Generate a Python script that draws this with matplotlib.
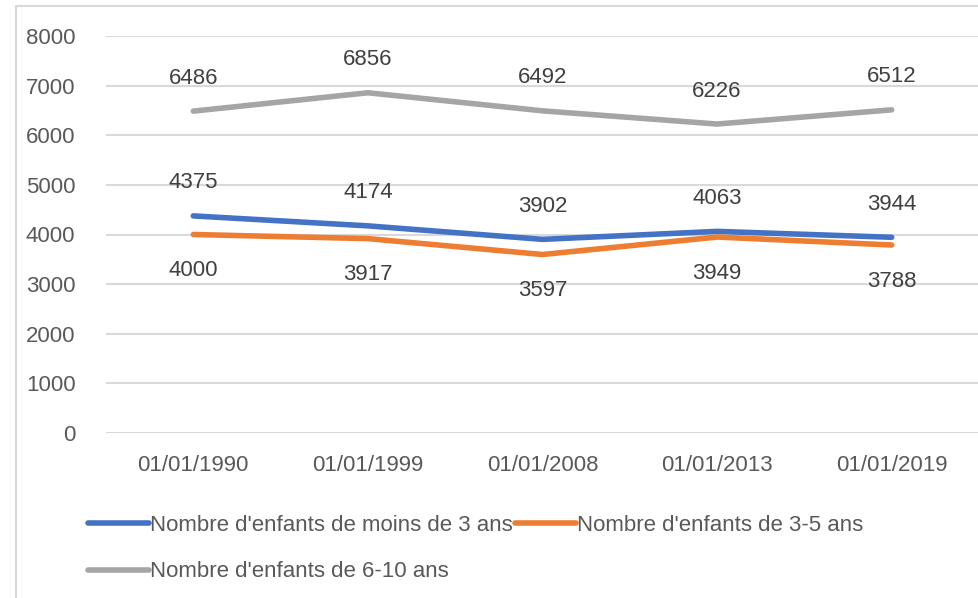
import matplotlib
matplotlib.use("Agg")
import matplotlib.pyplot as plt
from matplotlib.patches import Rectangle

categories = ["01/01/1990", "01/01/1999", "01/01/2008", "01/01/2013", "01/01/2019"]
moins3 = [4375, 4174, 3902, 4063, 3944]
ans3_5 = [4000, 3917, 3597, 3949, 3788]
ans6_10 = [6486, 6856, 6492, 6226, 6512]
names = ["Nombre d'enfants de moins de 3 ans", "Nombre d'enfants de 3-5 ans",
         "Nombre d'enfants de 6-10 ans"]
yticks = [0, 1000, 2000, 3000, 4000, 5000, 6000, 7000, 8000]

plt.rcParams['font.family'] = ['Liberation Sans', 'DejaVu Sans']
FS = 16

fig = plt.figure(figsize=(9.79, 5.98), dpi=100)
ax = fig.add_axes([106/979, 1-433/598, 1-106/979, (433-36)/598])

x = list(range(len(categories)))
colors = ["#4472C4", "#ED7D31", "#A5A5A5"]
lines = []
for vals, c, n in zip([moins3, ans3_5, ans6_10], colors, names):
    l, = ax.plot(x, vals, color=c, lw=4.0, solid_capstyle='round', label=n, zorder=3)
    lines.append(l)

for xi, v in zip(x, ans6_10):
    ax.annotate(str(v), (xi, v), xytext=(0, 33), textcoords='offset pixels',
                ha='center', va='center', fontsize=FS, color='#404040')
for xi, v in zip(x, moins3):
    ax.annotate(str(v), (xi, v), xytext=(0, 33), textcoords='offset pixels',
                ha='center', va='center', fontsize=FS, color='#404040')
for xi, v in zip(x, ans3_5):
    ax.annotate(str(v), (xi, v), xytext=(0, -36), textcoords='offset pixels',
                ha='center', va='center', fontsize=FS, color='#404040')

ax.set_xlim(-0.5, len(categories) - 0.5)
ax.set_ylim(0, 8000)
ax.set_yticks(yticks)
ax.set_yticklabels([str(t) for t in yticks])
ax.set_xticks(x)
ax.set_xticklabels(categories)
ax.tick_params(axis='both', length=0, labelsize=FS, colors='#595959')
ax.tick_params(axis='y', pad=22)
ax.tick_params(axis='x', pad=16)
ax.grid(axis='y', color='#d9d9d9', lw=1.5, zorder=0)
ax.set_axisbelow(True)
for s in ax.spines.values():
    s.set_visible(False)

leg = fig.legend([lines[0], lines[2], lines[1]], [names[0], names[2], names[1]],
                 ncol=2, loc='upper left', bbox_to_anchor=(79/979, 1-506/598),
                 frameon=False, fontsize=FS, handlelength=2.75, handletextpad=0.05,
                 columnspacing=0.1, labelspacing=1.15, borderaxespad=0)
for t in leg.get_texts():
    t.set_color('#595959')

fig.patches.append(Rectangle((16/979, -0.1), 1.2, 1 - 6/598 + 0.1, transform=fig.transFigure,
                             fill=False, edgecolor='#d9d9d9', lw=1.5))

fig.savefig("out.png", dpi=100)
